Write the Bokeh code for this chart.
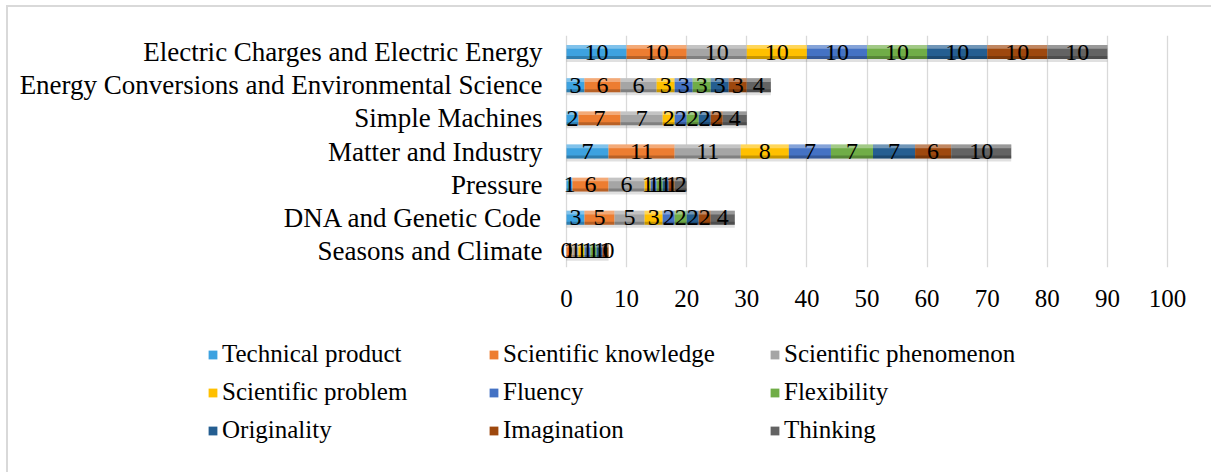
from bokeh.plotting import figure
from bokeh.layouts import column
from bokeh.models import FactorRange, FixedTicker, Legend, LegendItem, ColumnDataSource, Range1d
from bokeh.transform import dodge
from bokeh.core.properties import value
from bokeh.embed import file_html
from bokeh.resources import INLINE

topics = [
    "Electric Charges and Electric Energy",
    "Energy Conversions and Environmental Science",
    "Simple Machines",
    "Matter and Industry",
    "Pressure",
    "DNA and Genetic Code",
    "Seasons and Climate",
]
series_names = [
    "Technical product", "Scientific knowledge", "Scientific phenomenon",
    "Scientific problem", "Fluency", "Flexibility",
    "Originality", "Imagination", "Thinking",
]
technical_product = [10, 3, 2, 7, 1, 3, 0]
scientific_knowledge = [10, 6, 7, 11, 6, 5, 1]
scientific_phenomenon = [10, 6, 7, 11, 6, 5, 1]
scientific_problem = [10, 3, 2, 8, 1, 3, 1]
fluency = [10, 3, 2, 7, 1, 2, 1]
flexibility = [10, 3, 2, 7, 1, 2, 1]
originality = [10, 3, 2, 7, 1, 2, 1]
imagination = [10, 3, 2, 6, 1, 2, 1]
thinking = [10, 4, 4, 10, 2, 4, 0]
x_ticks = [0, 10, 20, 30, 40, 50, 60, 70, 80, 90, 100]

series_values = [technical_product, scientific_knowledge, scientific_phenomenon,
                 scientific_problem, fluency, flexibility, originality,
                 imagination, thinking]
colors = ["#3DA2E0", "#ED7D31", "#A5A5A5", "#FFC000", "#4472C4",
          "#70AD47", "#255E91", "#9E480E", "#636363"]

FONT = "Liberation Serif"
W = 1203
AXIS_LEFT_PX = 558     # where value 0 sits on the canvas
AXIS_SPAN_PX = 601     # pixels covered by 0..100
x_min, x_max = 0, 100
px_per_unit = AXIS_SPAN_PX / (x_max - x_min)
x_start = x_min - AXIS_LEFT_PX / px_per_unit
x_end = x_max + (W - AXIS_LEFT_PX - AXIS_SPAN_PX) / px_per_unit

p = figure(width=W, height=310,
           y_range=FactorRange(factors=list(reversed(topics))),
           x_range=Range1d(x_start, x_end),
           y_axis_location=None,
           output_backend="svg", toolbar_location=None,
           min_border_left=0, min_border_right=0,
           min_border_top=28, min_border_bottom=50)
p.outline_line_color = None
p.background_fill_color = "white"
p.border_fill_color = "white"

# soft shadow under each whole bar
totals = [sum(vals) for vals in zip(*series_values)]
shadow_src = ColumnDataSource(dict(topic=topics, total=totals, zero=[0] * len(topics)))
p.hbar(y=dodge("topic", -0.09, range=p.y_range), left="zero", right="total", height=0.42,
       source=shadow_src, fill_color="#000000", fill_alpha=0.12, line_color=None)

lefts = [0] * len(topics)
sources = []
for name, vals, col in zip(series_names, series_values, colors):
    rights = [l + v for l, v in zip(lefts, vals)]
    src = ColumnDataSource(dict(topic=topics, left=lefts, right=rights))
    sources.append(src)
    p.hbar(y="topic", left="left", right="right", height=0.42, source=src,
           fill_color=col, line_color=None)
    # bevel highlight / shade
    p.hbar(y=dodge("topic", 0.155, range=p.y_range), left="left", right="right", height=0.11,
           source=src, fill_color="white", fill_alpha=0.35, line_color=None)
    p.hbar(y=dodge("topic", -0.165, range=p.y_range), left="left", right="right", height=0.09,
           source=src, fill_color="black", fill_alpha=0.22, line_color=None)
    lefts = rights

# data labels on top of all bars
lefts = [0] * len(topics)
for vals in series_values:
    rights = [l + v for l, v in zip(lefts, vals)]
    mids = [(l + r) / 2 for l, r in zip(lefts, rights)]
    src = ColumnDataSource(dict(topic=topics, mid=mids, label=[str(v) for v in vals]))
    p.text(x="mid", y="topic", text="label", source=src, text_align="center",
           text_baseline="middle", text_color="black",
           text_font=value(FONT), text_font_size="24px")
    lefts = rights

# category labels (left of the value axis origin)
p.text(x="zero", y="topic", text="topic", source=shadow_src, x_offset=-24,
       text_align="right", text_baseline="middle", text_color="black",
       text_font=value(FONT), text_font_size="27px")

p.ygrid.grid_line_color = None
p.xgrid.ticker = FixedTicker(ticks=x_ticks)
p.xgrid.grid_line_color = "#d9d9d9"
p.xgrid.grid_line_width = 1.3

ax = p.xaxis[0]
ax.ticker = FixedTicker(ticks=x_ticks)
ax.axis_line_color = None
ax.major_tick_line_color = None
ax.minor_tick_line_color = None
ax.major_tick_out = 0
ax.major_tick_in = 0
ax.minor_tick_out = 0
ax.major_label_text_color = "black"
ax.major_label_text_font = FONT
ax.major_label_text_font_size = "25px"
ax.major_label_standoff = 22

# legend panel: a second figure whose frame spans the full width
q = figure(width=W, height=155,
           x_range=Range1d(-300, -200), y_range=FactorRange(factors=topics),
           output_backend="svg", toolbar_location=None,
           x_axis_location=None, y_axis_location=None,
           min_border_left=0, min_border_right=0, min_border_top=0, min_border_bottom=0)
q.outline_line_color = None
q.xgrid.visible = False
q.ygrid.visible = False
legend_renderers = []
for src, col in zip(sources, colors):
    # same data as above; kept outside this panel's visible range, used only for the legend swatches
    legend_renderers.append(q.hbar(y="topic", left="left", right="right", height=0.42,
                                   source=src, fill_color=col, line_color=None))
legend = Legend(items=[LegendItem(label=n, renderers=[r]) for n, r in zip(series_names, legend_renderers)],
                orientation="horizontal", ncols=3,
                location=(199, 28),
                label_text_font=FONT, label_text_font_size="25px",
                label_text_color="black",
                glyph_width=11, glyph_height=11, label_standoff=4,
                label_width=256, spacing=10, padding=0,
                border_line_color=None, background_fill_alpha=0)
q.add_layout(legend)

layout = column(p, q, spacing=0)
layout.styles = {"margin-left": "6px", "margin-top": "5px",
                 "border-left": "2px solid #d9d9d9", "border-top": "2px solid #d9d9d9"}

open("out.html", "w").write(file_html(layout, INLINE))
